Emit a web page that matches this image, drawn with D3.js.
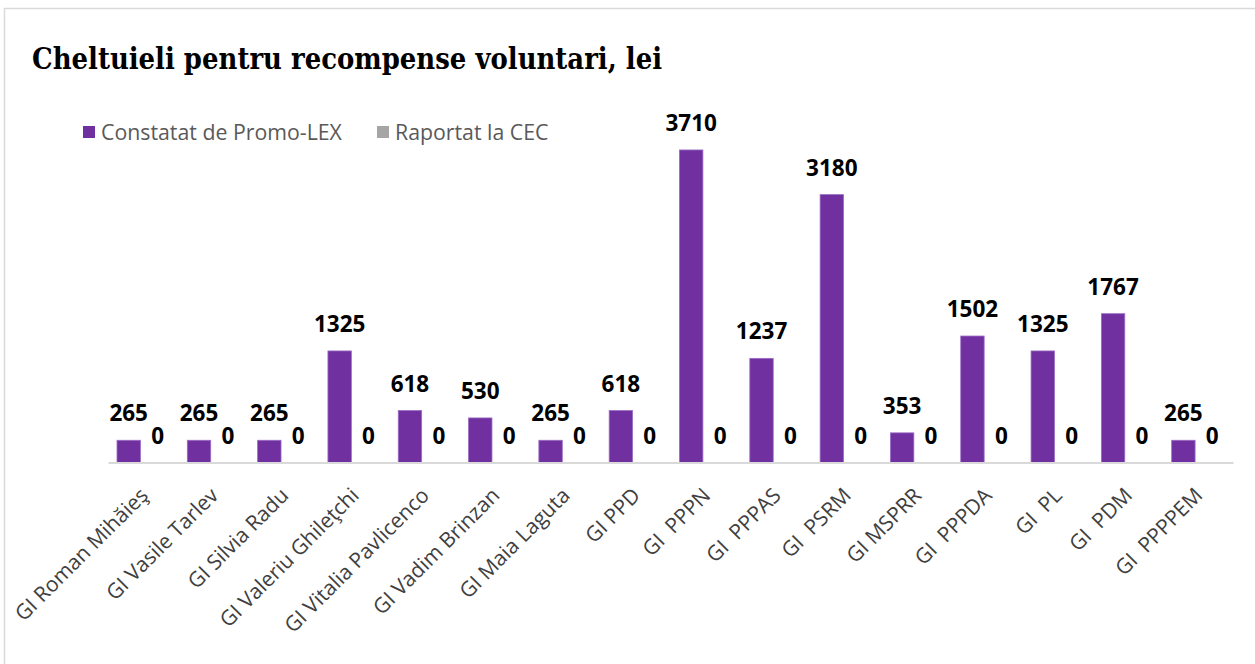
<!DOCTYPE html>
<html>
<head>
<meta charset="utf-8">
<script src="https://cdn.jsdelivr.net/npm/d3@7"></script>
<style>
  body { margin: 0; background: #fff; }
  svg { display: block; }
  .tick text { white-space: pre; }
</style>
</head>
<body>
<div id="chart"></div>
<script>
const categories = ["GI Roman Mihăieş", "GI Vasile Tarlev", "GI Silvia Radu", "GI Valeriu Ghileţchi",
  "GI Vitalia Pavlicenco", "GI Vadim Brinzan", "GI Maia Laguta", "GI PPD", "GI  PPPN", "GI  PPPAS",
  "GI  PSRM", "GI MSPRR", "GI  PPPDA", "GI  PL", "GI  PDM", "GI  PPPPEM"];
const constatat = [265, 265, 265, 1325, 618, 530, 265, 618, 3710, 1237, 3180, 353, 1502, 1325, 1767, 265];
const raportat = [0, 0, 0, 0, 0, 0, 0, 0, 0, 0, 0, 0, 0, 0, 0, 0];
const seriesNames = ["Constatat de Promo-LEX", "Raportat la CEC"];
const seriesColors = ["#7030a0", "#a5a5a5"];

const width = 1255, height = 664;
const x0 = 108, x1 = 1233, baseY = 462.6;

const svg = d3.select("#chart").append("svg")
  .attr("width", width)
  .attr("height", height);

// chart frame
svg.append("rect")
  .attr("x", 4.5).attr("y", 8.5)
  .attr("width", 1400).attr("height", 800)
  .attr("fill", "#fff")
  .attr("stroke", "#d9d9d9")
  .attr("stroke-width", 1.5);

svg.append("text")
  .attr("x", 32).attr("y", 69)
  .attr("font-family", "DejaVu Serif, serif")
  .attr("font-weight", "bold")
  .attr("font-size", 29)
  .attr("textLength", 630)
  .attr("lengthAdjust", "spacingAndGlyphs")
  .attr("fill", "#000")
  .text("Cheltuieli pentru recompense voluntari, lei");

// legend
const legendX = [83, 377];
const legend = svg.selectAll(".legend")
  .data(seriesNames)
  .enter().append("g")
  .attr("class", "legend")
  .attr("transform", (d, i) => "translate(" + legendX[i] + ",126)");
legend.append("rect")
  .attr("width", 12).attr("height", 12)
  .attr("fill", (d, i) => seriesColors[i]);
legend.append("text")
  .attr("x", 18).attr("y", 14)
  .attr("font-family", "Open Sans, sans-serif")
  .attr("font-size", 21.3)
  .attr("fill", "#595959")
  .text(d => d);

const x = d3.scaleBand()
  .domain(categories)
  .range([x0, x1]);

const y = d3.scaleLinear()
  .domain([0, 4000])
  .range([baseY, baseY - 4000 * 0.08427]);

const bw = 23.4, pad = 9, inner = 5.5;

const rows = categories.map((c, i) => ({ c: c, a: constatat[i], b: raportat[i] }));

const grp = svg.selectAll(".grp")
  .data(rows)
  .enter().append("g")
  .attr("class", "grp")
  .attr("transform", d => "translate(" + x(d.c) + ",0)");

grp.append("rect")
  .attr("x", pad)
  .attr("y", d => y(d.a))
  .attr("width", bw)
  .attr("height", d => baseY - y(d.a))
  .attr("fill", seriesColors[0])
  .attr("stroke", "#9a6cc4")
  .attr("stroke-width", 0.8);

grp.append("rect")
  .attr("x", pad + bw + inner)
  .attr("y", d => y(d.b))
  .attr("width", bw)
  .attr("height", d => baseY - y(d.b))
  .attr("fill", seriesColors[1]);

grp.append("text")
  .attr("x", pad + bw / 2)
  .attr("y", d => y(d.a) - 19)
  .attr("text-anchor", "middle")
  .attr("font-family", "Open Sans, sans-serif")
  .attr("font-weight", "bold")
  .attr("font-size", 22.5)
  .attr("fill", "#000")
  .text(d => d.a);

grp.append("text")
  .attr("x", pad + bw + inner + bw / 2)
  .attr("y", d => y(d.b) - 19)
  .attr("text-anchor", "middle")
  .attr("font-family", "Open Sans, sans-serif")
  .attr("font-weight", "bold")
  .attr("font-size", 22.5)
  .attr("fill", "#000")
  .text(d => d.b);

// x axis
const xAxis = svg.append("g")
  .attr("transform", "translate(0," + baseY + ")")
  .call(d3.axisBottom(x).tickSize(0).tickPadding(0));
xAxis.select(".domain").attr("stroke", "#d9d9d9").attr("stroke-width", 2);
xAxis.selectAll("text")
  .attr("font-family", "Open Sans, sans-serif")
  .attr("font-size", 21)
  .attr("fill", "#404040")
  .attr("text-anchor", "end")
  .attr("dy", "0.75em")
  .attr("transform", "translate(-5,23) rotate(-45)");
</script>
</body>
</html>
